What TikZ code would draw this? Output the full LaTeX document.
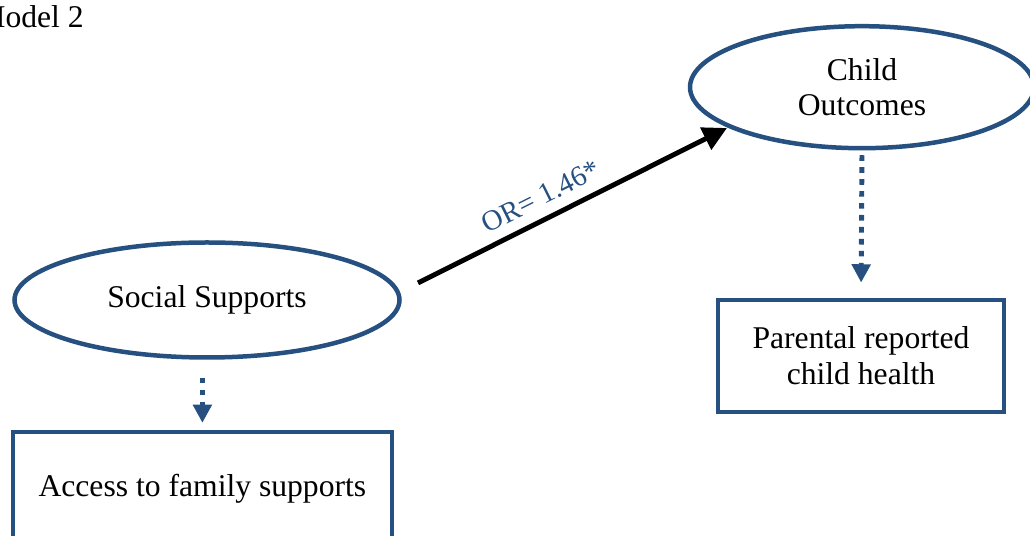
\documentclass[tikz,border=0pt]{standalone}
\usepackage{fontspec}
\setmainfont{Liberation Serif}
\usetikzlibrary{arrows.meta,shapes.geometric}
\definecolor{pathblue}{RGB}{37,80,128}
\tikzset{
  construct/.style={ellipse, draw=pathblue, line width=3.2pt, inner sep=0pt, align=center},
  indicator/.style={rectangle, draw=pathblue, line width=3.2pt, inner sep=0pt, align=center},
  loading/.style={draw=pathblue, line width=3.5pt, dash pattern=on 4pt off 4.5pt,
    -{Triangle[length=13pt,width=13pt,fill=pathblue]}},
  effect/.style={draw=black, line width=3.5pt, -{Triangle[length=17pt,width=17pt]}}
}
\begin{document}
\begin{tikzpicture}[font=\fontsize{22.5}{25.5}\selectfont]
\useasboundingbox (0,0) rectangle (25.75,13.4);
\node (title)[anchor=base east, inner sep=0pt] at (2.1, 12.7) {Model 2};
\node (social)[construct, minimum width=9.625cm, minimum height=2.875cm] at (5.175, 5.9) {Social Supports};
\node (child)[construct, minimum width=8.6cm, minimum height=3.05cm] at (21.55, 11.22) {Child\\Outcomes};
\node (parent)[indicator, minimum width=7.15cm, minimum height=2.8cm] at (21.525, 4.5) {Parental reported\\child health};
\node (access)[indicator, minimum width=9.475cm, minimum height=2.825cm] at (5.06, 1.19) {Access to family supports};
\coordinate (ssout) at (10.45, 6.325);
\coordinate (coin) at (18.175, 10.2);
\draw[effect] (ssout) -- node[pos=0.43, above=4pt, sloped, text=pathblue, font=\fontsize{20.5}{24}\selectfont] {OR= 1.46*} (coin);
\draw[loading, shorten <=0.12cm, shorten >=0.38cm] (child.south) -- (parent.north);
\draw[loading, shorten <=0.45cm, shorten >=0.17cm] (access.north |- social.south) -- (access.north);
\end{tikzpicture}
\end{document}
